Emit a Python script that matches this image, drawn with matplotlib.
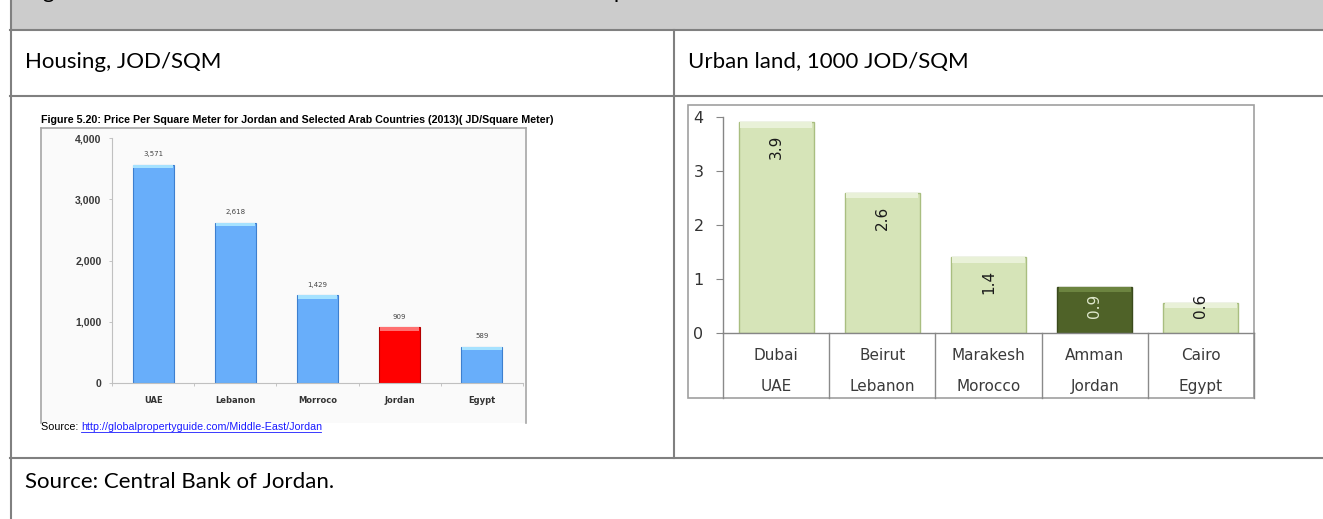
import matplotlib.pyplot as plt
from matplotlib.patches import Rectangle
from matplotlib.lines import Line2D

# canvas size in pixels
W, H = 1323, 519

# left chart: housing price per square meter (JD)
housing_countries = ["UAE", "Lebanon", "Morroco", "Jordan", "Egypt"]
housing_prices = [3571, 2618, 1429, 909, 589]
housing_ticks = [0, 1000, 2000, 3000, 4000]

# right chart: urban land, 1000 JOD per square meter
land_cities = ["Dubai", "Beirut", "Marakesh", "Amman", "Cairo"]
land_countries = ["UAE", "Lebanon", "Morocco", "Jordan", "Egypt"]
land_prices = [3.9, 2.6, 1.4, 0.86, 0.56]
land_ticks = [0, 1, 2, 3, 4]

fig = plt.figure(figsize=(W / 100, H / 100), dpi=100)
renderer = fig.canvas.get_renderer()


def fx(px):
    return px / W


def fy(py):
    return 1 - py / H


def hline(y, x0, x1, **kw):
    fig.add_artist(Line2D([fx(x0), fx(x1)], [fy(y), fy(y)], **kw))


def vline(x, y0, y1, **kw):
    fig.add_artist(Line2D([fx(x), fx(x)], [fy(y0), fy(y1)], **kw))


def box(x0, y0, x1, y1, **kw):
    fig.add_artist(Rectangle((fx(x0), fy(y1)), fx(x1) - fx(x0), fy(y0) - fy(y1),
                             transform=fig.transFigure, **kw))


def fit(t, width_px):
    # scale the font so the text spans the measured width
    w = t.get_window_extent(renderer).width
    t.set_fontsize(t.get_fontsize() * width_px / w)
    return t


def axes_px(x0, y0, x1, y1):
    return fig.add_axes([fx(x0), fy(y1), fx(x1) - fx(x0), fy(y0) - fy(y1)])


# ---- table frame ----
grid = dict(color="#808080", lw=1.5)
box(11, 0, W, 29, facecolor="#cccccc", edgecolor="none", zorder=-2)
vline(10.5, 0, H, **grid)
hline(29.5, 10, W, **grid)
hline(95.5, 10, W, **grid)
hline(457.5, 10, W, **grid)
vline(674, 29.5, 457.5, **grid)

cell_font = "Lato"
# the title row is scrolled off the top of the screenshot, only descenders show
head = fig.text(fx(25), fy(-1.5),
                "Figure 5: Real estate and urban land in Amman is much cheaper than in other Arab cities",
                family=cell_font, fontsize=17, va="baseline", color="black")
sub1 = fig.text(fx(25), fy(62), "Housing, JOD/SQM", family=cell_font, fontsize=17, va="center")
fit(sub1, 197)
head.set_fontsize(sub1.get_fontsize())
sub2 = fig.text(fx(688), fy(62), "Urban land, 1000 JOD/SQM", family=cell_font,
                fontsize=sub1.get_fontsize(), va="center")
src = fig.text(fx(25), fy(482), "Source: Central Bank of Jordan.", family=cell_font,
               fontsize=sub1.get_fontsize(), va="center")

# ---- left chart (pasted Excel figure) ----
box(41, 127.7, 525.5, 423, facecolor="#fafafa", edgecolor="none", zorder=-1)
frame = dict(color="#a6a6a6", lw=1.2)
vline(41, 127.7, 423, **frame)
vline(525.5, 127.7, 423, **frame)
hline(127.7, 41, 525.5, **frame)

t = fig.text(fx(41), fy(120), "Figure 5.20: Price Per Square Meter for Jordan and Selected Arab Countries (2013)( JD/Square Meter)",
             family="Liberation Sans", weight="bold", fontsize=7, va="center")
fit(t, 515)

ax1 = axes_px(112, 138.3, 523, 382.7)
ax1.set_facecolor("none")
x1 = list(range(len(housing_countries)))
c1 = ["#ff0000" if c == "Jordan" else "#68aefa" for c in housing_countries]
e1 = ["#b30000" if c == "Jordan" else "#3d7fcf" for c in housing_countries]
top1 = ["#ff7070" if c == "Jordan" else "#a6e2ff" for c in housing_countries]
ax1.bar(x1, housing_prices, width=0.5, color=c1, edgecolor=e1, linewidth=0.8, zorder=2)
ax1.bar(x1, [60] * len(x1), bottom=[v - 60 for v in housing_prices], width=0.48,
        color=top1, linewidth=0, zorder=3)
ax1.set_xlim(-0.5, 4.5)
ax1.set_ylim(0, 4000)
ax1.set_yticks(housing_ticks)
ax1.set_yticklabels([f"{v:,}" for v in housing_ticks], family="Liberation Sans",
                    weight="bold", fontsize=7.6, color="#3a3a3a")
ax1.tick_params(axis="y", length=2.5, width=0.6, color="#bbbbbb", pad=5)
ax1.set_xticks([i - 0.5 for i in range(len(x1) + 1)])
ax1.set_xticklabels([])
ax1.tick_params(axis="x", length=2.5, width=0.6, color="#bbbbbb")
for s in ["top", "right"]:
    ax1.spines[s].set_visible(False)
for s in ["left", "bottom"]:
    ax1.spines[s].set_color("#c0c0c0")
    ax1.spines[s].set_linewidth(0.8)
for i, (c, v) in enumerate(zip(housing_countries, housing_prices)):
    ax1.annotate(f"{v:,}", (i, v), xytext=(0, 10.5), textcoords="offset pixels",
                 ha="center", va="center", fontsize=5, color="#444444", family="DejaVu Sans")
    ax1.annotate(c, (i, 0), xycoords=ax1.get_xaxis_transform(), xytext=(0, -18),
                 textcoords="offset pixels", ha="center", va="center", fontsize=6,
                 weight="bold", color="#333333", family="DejaVu Sans")

s1 = fig.text(fx(41), fy(427), "Source: ", family="Liberation Sans", fontsize=7, va="center")
fit(s1, 40)
bb = s1.get_window_extent(renderer)
link = fig.text(bb.x1 / W, fy(427), "http://globalpropertyguide.com/Middle-East/Jordan",
                family="Liberation Sans", fontsize=s1.get_fontsize(), va="center", color="#1a1aff")
fit(link, 321 - bb.x1)
lb = link.get_window_extent(renderer)
fig.add_artist(Line2D([lb.x0 / W, lb.x1 / W - 2 / W], [fy(432), fy(432)], color="#1a1aff", lw=0.6))

# ---- right chart ----
box(688, 105, 1254, 397.7, facecolor="white", edgecolor="#a0a0a0", lw=1.2, zorder=-1)

ax2 = axes_px(723, 116.7, 1254, 333.3)
ax2.set_facecolor("none")
x2 = list(range(len(land_cities)))
c2 = ["#4f6228" if c == "Amman" else "#d6e4b8" for c in land_cities]
e2 = ["#3a4a1c" if c == "Amman" else "#a9be80" for c in land_cities]
top2 = ["#6c8440" if c == "Amman" else "#e9f1d8" for c in land_cities]
ax2.bar(x2, land_prices, width=0.707, color=c2, edgecolor=e2, linewidth=1.0, zorder=2)
ax2.bar(x2, [0.1] * len(x2), bottom=[v - 0.1 for v in land_prices], width=0.68,
        color=top2, linewidth=0, zorder=3)
ax2.set_xlim(-0.5, 4.5)
ax2.set_ylim(0, 4)
ax2.set_yticks(land_ticks)
ax2.set_yticklabels([str(v) for v in land_ticks], family="DejaVu Sans", fontsize=11.5, color="#333333")
ax2.tick_params(axis="y", length=5, width=0.8, color="#868686", pad=9)
ax2.set_xticks([])
for s in ["top", "right"]:
    ax2.spines[s].set_visible(False)
for s in ["left", "bottom"]:
    ax2.spines[s].set_color("#868686")
    ax2.spines[s].set_linewidth(1.0)

# category table under the axis
depth = -64.4 / (333.3 - 116.7)
xt = ax2.get_xaxis_transform()
for b in [i - 0.5 for i in range(len(x2) + 1)]:
    ax2.plot([b, b], [0, depth], transform=xt, color="#8a8a8a", lw=1.0, clip_on=False)
for i, (city, ctry, v) in enumerate(zip(land_cities, land_countries, land_prices)):
    ax2.annotate(city, (i, 0), xycoords=xt, xytext=(0, -22), textcoords="offset pixels",
                 ha="center", va="center", fontsize=11, color="#3a3a3a", family="DejaVu Sans")
    ax2.annotate(ctry, (i, 0), xycoords=xt, xytext=(0, -53.5), textcoords="offset pixels",
                 ha="center", va="center", fontsize=11, color="#3a3a3a", family="DejaVu Sans")
    ax2.text(i, max(v - 0.46, 0.5), f"{v:.1f}", rotation=90, ha="center", va="center",
             fontsize=11, family="DejaVu Sans",
             color="#dfe8cc" if city == "Amman" else "#1a1a1a", zorder=4)

fig.savefig("out.png", dpi=100)
